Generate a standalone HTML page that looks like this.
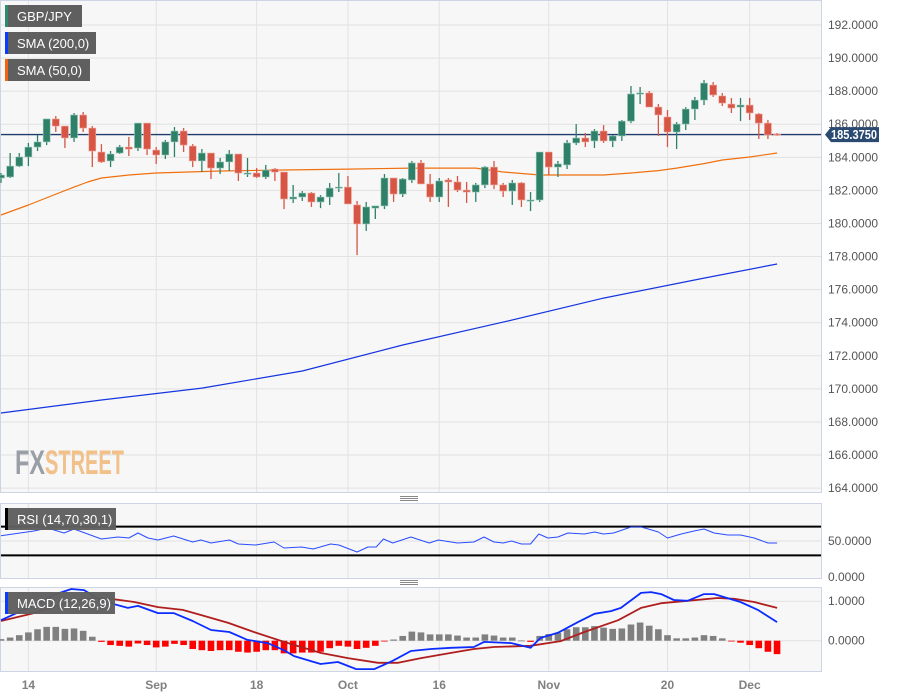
<!DOCTYPE html>
<html><head><meta charset="utf-8">
<style>
html,body{margin:0;padding:0;background:#fff;}
svg{display:block;font-family:"Liberation Sans",sans-serif;}
</style></head>
<body>
<svg id="chart" width="898" height="697" viewBox="0 0 898 697" xmlns="http://www.w3.org/2000/svg">
  <rect x="0.5" y="0.5" width="821" height="492" fill="#f7f7f7" stroke="#cdd5e5"/>
  <rect x="0.5" y="503.5" width="821" height="75" fill="#f7f7f7" stroke="#cdd5e5"/>
  <rect x="0.5" y="587.5" width="821" height="84" fill="#f7f7f7" stroke="#cdd5e5"/>
  <g id="grid"></g>
  <g>
    <text x="15" y="474" font-size="34" font-weight="bold" fill="#9a9ea6" textLength="30" lengthAdjust="spacingAndGlyphs">FX</text>
    <text x="45" y="474" font-size="34" font-weight="bold" fill="#f2c089" textLength="79" lengthAdjust="spacingAndGlyphs">STREET</text>
  </g>
  <g id="series"></g>
  <g id="axes"></g>
  <g stroke="#888" stroke-width="1">
    <line x1="400" y1="496.5" x2="418" y2="496.5"/><line x1="400" y1="498.5" x2="418" y2="498.5"/><line x1="400" y1="500.5" x2="418" y2="500.5"/>
  </g>
  <g stroke="#888" stroke-width="1">
    <line x1="400" y1="580.5" x2="418" y2="580.5"/><line x1="400" y1="582.5" x2="418" y2="582.5"/><line x1="400" y1="584.5" x2="418" y2="584.5"/>
  </g>
  <g>
    <rect x="5" y="5" width="77" height="22" fill="#5f5f5f"/><rect x="5" y="5" width="3" height="22" fill="#2e8b6e"/>
    <text x="17" y="21" font-size="13" fill="#fff">GBP/JPY</text>
  </g>
  <g>
    <rect x="5" y="32" width="91" height="22" fill="#5f5f5f"/><rect x="5" y="32" width="3" height="22" fill="#0a3cff"/>
    <text x="17" y="48" font-size="13" fill="#fff">SMA (200,0)</text>
  </g>
  <g>
    <rect x="5" y="59" width="85" height="22" fill="#5f5f5f"/><rect x="5" y="59" width="3" height="22" fill="#f0650e"/>
    <text x="17" y="75" font-size="13" fill="#fff">SMA (50,0)</text>
  </g>
  <g>
    <rect x="5" y="508" width="111" height="22" fill="#5f5f5f" fill-opacity="0.97"/><rect x="5" y="508" width="3" height="22" fill="#000"/>
    <text x="17" y="524" font-size="13" fill="#fff">RSI (14,70,30,1)</text>
  </g>
  <g>
    <rect x="5" y="592" width="110" height="22" fill="#5f5f5f" fill-opacity="0.97"/><rect x="5" y="592" width="3" height="22" fill="#0a3cff"/>
    <text x="17" y="608" font-size="13" fill="#fff">MACD (12,26,9)</text>
  </g>
</svg>
<script>
const NS="http://www.w3.org/2000/svg";
const opens=[182.75,182.81,183.47,184.02,184.62,184.93,186.32,185.89,185.17,186.56,
185.77,184.32,183.78,184.26,184.62,184.56,186.07,184.44,184.14,184.93,
185.59,184.68,183.78,184.26,183.35,183.72,184.20,182.99,183.05,182.81,
183.29,183.11,181.48,181.60,181.84,181.30,181.60,182.14,182.20,181.12,
179.97,180.93,181.06,182.75,181.78,182.63,183.66,182.39,181.60,182.63,
182.51,182.02,181.90,182.33,183.41,182.33,181.96,182.45,181.36,181.42,
184.32,183.41,183.54,184.87,185.17,184.99,185.59,184.99,185.29,186.19,
187.83,187.89,187.04,186.44,185.53,186.01,186.92,187.46,188.37,187.71,
187.22,187.04,187.16,186.62,186.07,185.40];
const highs=[183.05,184.26,184.26,184.87,185.35,186.32,186.50,185.89,186.68,186.74,
185.89,184.80,184.38,184.74,185.23,186.07,186.07,184.62,185.05,185.83,
185.77,184.80,184.50,184.26,183.96,184.44,184.20,183.96,183.35,183.54,
183.35,183.11,182.33,181.96,181.90,181.72,182.45,183.05,182.87,181.36,
181.30,181.06,182.99,182.75,182.75,183.78,183.84,182.99,182.75,182.75,
182.87,182.51,182.45,183.47,183.78,182.45,182.63,182.51,181.90,184.32,
184.32,183.78,185.05,186.01,185.47,185.71,185.95,185.35,186.26,188.31,
188.25,188.01,187.22,186.86,186.13,187.04,187.65,188.67,188.55,187.89,
187.59,187.59,187.59,186.68,186.26,185.47];
const lows=[182.45,182.75,183.41,183.47,184.38,184.74,185.53,184.56,184.93,185.53,
183.41,183.66,183.41,184.20,184.08,184.38,184.14,183.60,183.90,184.02,
184.32,183.41,183.11,182.69,182.99,183.17,182.57,182.81,182.75,182.69,
182.57,180.87,181.24,181.36,181.00,180.93,181.12,181.90,181.18,178.09,
179.55,180.27,180.87,181.30,181.60,182.45,182.39,181.30,181.30,181.00,
181.90,181.24,181.30,182.14,182.08,181.60,181.12,181.00,180.75,181.30,
182.93,182.81,183.29,184.74,184.62,184.56,184.87,184.62,184.99,186.07,
187.22,187.04,185.29,184.62,184.50,185.65,186.26,187.16,187.65,187.10,
186.68,186.19,186.26,185.11,185.11,185.29];
const closes=[182.93,183.47,184.02,184.62,184.93,186.32,185.89,185.17,186.56,185.77,
184.38,183.72,184.20,184.62,184.50,186.07,184.50,184.14,184.93,185.59,
184.74,183.78,184.26,183.35,183.72,184.20,183.05,183.05,182.81,183.23,
183.11,181.48,181.60,181.84,181.30,181.60,182.14,182.20,181.18,179.97,
181.00,181.06,182.75,181.78,182.69,183.66,182.39,181.60,182.57,182.51,
182.02,181.90,182.33,183.41,182.33,181.96,182.45,181.42,181.42,184.32,
183.41,183.60,184.87,185.17,184.93,185.59,184.99,185.29,186.19,187.83,
187.89,187.04,186.56,185.53,186.01,186.92,187.46,188.49,187.77,187.28,
186.98,187.16,186.68,186.07,185.35,185.375];
const lastPrice=185.375;
const sma50Idx=[0,3,5.5,8,9.5,11,14,17,24,30,38,45,52,55,59,66,69,72,74,77,79,82,85];
const sma50Val=[180.51,181.12,181.66,182.20,182.51,182.75,182.93,183.05,183.17,183.23,183.29,183.35,183.35,183.11,182.93,182.93,183.05,183.20,183.35,183.62,183.84,184.02,184.26];
const sma200Idx=[0,11,22,33,44,55,66,77,85];
const sma200Val=[168.54,169.33,170.05,171.08,172.65,174.04,175.49,176.70,177.55];
const rsiIdx=[0,3.6,5.1,6.9,8,11,12.8,14,15,16.1,17.2,18.9,21,21.9,23,25,26,27.9,29.9,31,32.9,34.2,36.1,37,39,40.2,41.1,41.9,42.9,44.9,46.9,47.9,50,51.8,52.9,54,55,55.9,57,58,58.9,59.9,61,62.1,63.9,65,66,67.1,69,70.1,70.9,72,73,74.5,75.9,77,78.1,79.6,81,82.5,84,85];
const rsiVal=[57.4,63.9,68.1,61.1,66.7,52.8,55.6,54.2,61.1,54.2,51.4,56.9,48.6,51.4,47.2,51.4,45.8,44.4,48.6,40.3,41.7,38.9,45.8,44.4,34.7,41.7,41.7,52.8,47.2,55.6,47.2,51.4,47.2,48.6,55.6,48.6,47.2,50,45.8,45.8,59.7,54.2,55.6,61.1,59.7,62.5,59.7,61.1,69.4,69.4,66.7,62.5,54.2,59.7,63.9,66.7,61.1,58.3,58.3,54.2,47.2,47.2];
const macdIdx=[0,3.6,5.8,7.7,9.1,11,13.9,15,17.2,18.9,21,23,25,27,29.2,31,32.1,35,36.9,38.9,40.9,42.9,44.9,47.1,49.3,51.8,52.9,55.9,58,59.1,61,63.2,65,66.8,67.9,70.1,71.2,72.3,73.7,75.2,77,78.1,81,82.9,85];
const macdVal=[0.52,0.90,1.16,1.31,1.28,1.01,0.83,0.88,0.70,0.70,0.50,0.27,0.22,0.02,-0.06,-0.24,-0.39,-0.59,-0.54,-0.72,-0.72,-0.51,-0.26,-0.21,-0.18,-0.16,-0.03,-0.06,-0.18,0.07,0.20,0.47,0.68,0.75,0.83,1.21,1.23,1.18,1.03,1.01,1.18,1.18,0.98,0.78,0.47];
const signalIdx=[0,3.6,7.3,10.2,12,14.6,17.2,19.9,21.9,24.9,27.7,31,35,38,41.3,43.5,46,49.3,51.8,54,58,61.3,63.9,67.6,70.1,72.3,75.2,78.5,80.3,82.5,85];
const signalVal=[0.50,0.70,0.98,1.08,1.06,0.98,0.85,0.78,0.65,0.45,0.22,-0.03,-0.31,-0.44,-0.56,-0.56,-0.44,-0.31,-0.21,-0.16,-0.13,-0.01,0.22,0.52,0.83,0.95,1.01,1.08,1.06,0.98,0.83];
const histVal=[0.04,0.08,0.14,0.21,0.29,0.35,0.35,0.30,0.31,0.25,
0.10,-0.03,-0.11,-0.13,-0.15,-0.07,-0.11,-0.17,-0.15,-0.08,
-0.11,-0.21,-0.24,-0.26,-0.24,-0.24,-0.28,-0.30,-0.28,-0.24,
-0.24,-0.32,-0.32,-0.30,-0.30,-0.28,-0.19,-0.13,-0.15,-0.21,
-0.18,-0.13,-0.01,0.03,0.12,0.23,0.21,0.16,0.16,0.16,
0.13,0.08,0.08,0.16,0.13,0.08,0.08,0.005,-0.03,0.12,
0.17,0.20,0.29,0.34,0.34,0.37,0.33,0.30,0.31,0.41,
0.46,0.38,0.29,0.14,0.06,0.06,0.08,0.14,0.12,0.06,
-0.01,-0.05,-0.11,-0.19,-0.28,-0.34];
const priceTicks=[192,190,188,186,184,182,180,178,176,174,172,170,168,166,164];
const rsiTicks=[50,0];
const macdTicks=[1,0];
const dateLabels=["14","Sep","18","Oct","16","Nov","20","Dec"];
const dateIdx=[3,17,28,38,48,60,73,82];

const STEP=9.13;
const xI=i=>1+i*STEP;
const yP=v=>25+(192-v)*16.54;
const yR=v=>577-v*0.72;
const yM=v=>640.7-v*39.5;

function mk(tag,attrs,parent){const e=document.createElementNS(NS,tag);for(const k in attrs)e.setAttribute(k,attrs[k]);parent.appendChild(e);return e;}
const grid=document.getElementById('grid');
const series=document.getElementById('series');
const axes=document.getElementById('axes');

priceTicks.forEach(v=>{
  const l=mk('line',{x1:1,x2:821,y1:yP(v),y2:yP(v),stroke:'#e2e2e2'},grid);
  
  
  const t=mk('text',{x:828,y:yP(v)+4,'font-size':12,fill:'#555'},axes);
  t.textContent=v.toFixed(4);
  
  
});
rsiTicks.forEach(v=>{
  if(v>0){const l=mk('line',{x1:1,x2:821,y1:yR(v),y2:yR(v),stroke:'#e2e2e2'},grid);
  
  }
  const t=mk('text',{x:828,y:yR(v)+4,'font-size':12,fill:'#555'},axes);
  t.textContent=v.toFixed(4);
  
  
});
macdTicks.forEach(v=>{
  const l=mk('line',{x1:1,x2:821,y1:yM(v),y2:yM(v),stroke:'#e2e2e2'},grid);
  
  
  const t=mk('text',{x:828,y:yM(v)+4,'font-size':12,fill:'#555'},axes);
  t.textContent=v.toFixed(4);
  
  
});
dateLabels.forEach((d,k)=>{
  const x=xI(dateIdx[k]);
  [[1,492],[504,578],[588,671]].forEach(r=>{
    const l=mk('line',{x1:x,x2:x,y1:r[0],y2:r[1],stroke:'#e2e2e2'},grid);
    
    
  });
  const t=mk('text',{x:x,y:689,'font-size':12,'font-weight':'bold',fill:'#808080','text-anchor':'middle'},axes);
  t.textContent=d;
  
  
});

[70,30].forEach(v=>{
  const l=mk('line',{x1:1,x2:821,y1:yR(v),y2:yR(v),stroke:'#000','stroke-width':2},series);
  
  
});

function path(idx,val,yf,color,w,name){
  let d='';idx.forEach((i,k)=>{d+=(k?'L':'M')+xI(i).toFixed(1)+' '+yf(val[k]).toFixed(1);});
  const p=mk('path',{d:d,fill:'none',stroke:color,'stroke-width':w,'stroke-linejoin':'round'},series);
  
  
}
path(sma200Idx,sma200Val,yP,'#1535e0',1.2,'sma200-line');
path(sma50Idx,sma50Val,yP,'#f0700e',1.2,'sma50-line');

const lp=mk('line',{x1:1,x2:821,y1:yP(lastPrice),y2:yP(lastPrice),stroke:'#1f3c6e','stroke-width':1.3},series);



opens.forEach((o,i)=>{
  const c=closes[i],up=c>=o,col=up?'#2f8068':'#d65545',x=xI(i);
  const g=mk('g',{},series);
  
  
  mk('line',{x1:x,x2:x,y1:yP(highs[i]),y2:yP(lows[i]),stroke:col,'stroke-width':1.3},g);
  const top=yP(Math.max(o,c)),bot=yP(Math.min(o,c));
  mk('rect',{x:x-3.5,y:top,width:7,height:Math.max(1.2,bot-top),fill:col,stroke:up?'#9cc9bb':'#f0aaa0','stroke-width':0.6},g);
});

const tg=mk('g',{},axes);


const ty=yP(lastPrice);
mk('path',{d:`M825 ${ty} L831 ${ty-7.5} L879 ${ty-7.5} L879 ${ty+7.5} L831 ${ty+7.5} Z`,fill:'#2b4a72'},tg);
const tt=mk('text',{x:831,y:ty+4.5,'font-size':12.5,'font-weight':'bold',fill:'#fff',textLength:46,lengthAdjust:'spacingAndGlyphs'},tg);
tt.textContent=lastPrice.toFixed(4);

path(rsiIdx,rsiVal,yR,'#2a4cff',1,'rsi-line');

histVal.forEach((v,i)=>{
  const x=xI(i),y0=yM(0),y1=yM(v);
  const r=mk('rect',{x:x-3.3,y:Math.min(y0,y1),width:6.6,height:Math.max(0.8,Math.abs(y1-y0)),fill:v>=0?'#808080':'#ff0000'},series);
  
  
});
path(signalIdx,signalVal,yM,'#b01e1e',1.8,'macd-signal-line');
path(macdIdx,macdVal,yM,'#0a2cff',1.8,'macd-line');
</script>
</body></html>
